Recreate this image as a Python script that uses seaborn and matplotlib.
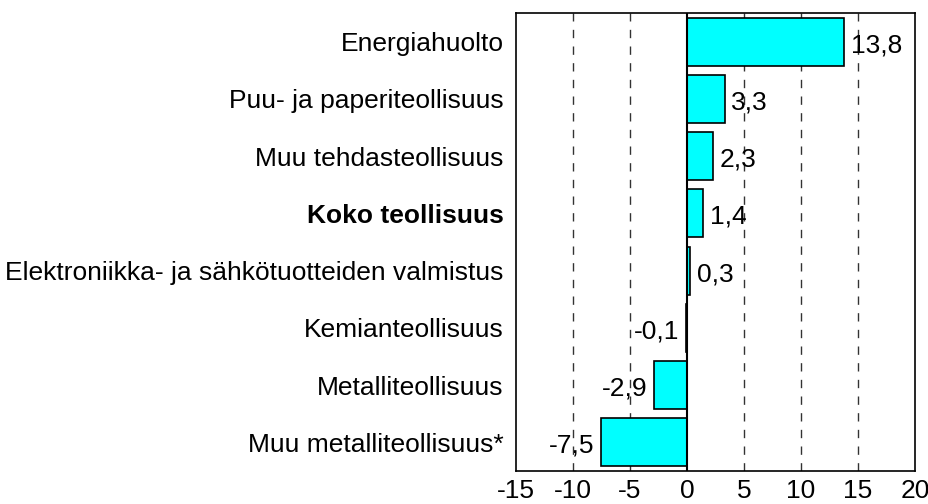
import numpy as np
import pandas as pd
import seaborn as sns
import matplotlib.pyplot as plt

# toimialat ja muutos-%
toimialat = ["Energiahuolto", "Puu- ja paperiteollisuus", "Muu tehdasteollisuus",
             "Koko teollisuus", "Elektroniikka- ja sähkötuotteiden valmistus",
             "Kemianteollisuus", "Metalliteollisuus", "Muu metalliteollisuus*"]
muutos = [13.8, 3.3, 2.3, 1.4, 0.3, -0.1, -2.9, -7.5]
xticks = [-15, -10, -5, 0, 5, 10, 15, 20]

df = pd.DataFrame({"toimiala": toimialat, "muutos": muutos})

sns.set_style("white")
plt.rcParams['font.family'] = ['Liberation Sans', 'DejaVu Sans']
plt.rcParams['text.color'] = 'black'
plt.rcParams['xtick.color'] = 'black'
plt.rcParams['ytick.color'] = 'black'

fs = 19

fig = plt.figure(figsize=(9.29, 5.04), dpi=100)
ax = fig.add_axes([0.5554, 0.0655, 0.4296, 0.9087])

for x in xticks[1:-1]:
    if x != 0:
        ax.axvline(x, color="#333333", lw=1, ls=(0, (6, 6)), zorder=0)

sns.barplot(data=df, x="muutos", y="toimiala", orient="h", color="#00FFFF",
            edgecolor="black", linewidth=1.2, width=0.84, saturation=1, ax=ax, zorder=2)
ax.axvline(0, color="black", lw=1.5, zorder=3)

for i, v in enumerate(muutos):
    s = f"{v:.1f}".replace(".", ",")
    if v >= 0:
        ax.text(v + 0.6, i + 0.06, s, va="center", ha="left", fontsize=fs, zorder=4)
    else:
        ax.text(v - 0.6, i + 0.06, s, va="center", ha="right", fontsize=fs, zorder=4)

ax.set_xlim(-15, 20)
ax.set_ylim(7.5, -0.5)
ax.set_xticks(xticks)
ax.set_xticklabels([str(t) for t in xticks])
ax.set_xlabel("")
ax.set_ylabel("")
ax.tick_params(axis="both", length=0, labelsize=fs)
ax.tick_params(axis="y", pad=9)
ax.tick_params(axis="x", pad=6)
for lbl in ax.get_yticklabels():
    if lbl.get_text() == "Koko teollisuus":
        lbl.set_fontweight("bold")
for sp in ax.spines.values():
    sp.set_visible(True)
    sp.set_color("black")
    sp.set_linewidth(1.2)

fig.savefig("out.png", dpi=100)
